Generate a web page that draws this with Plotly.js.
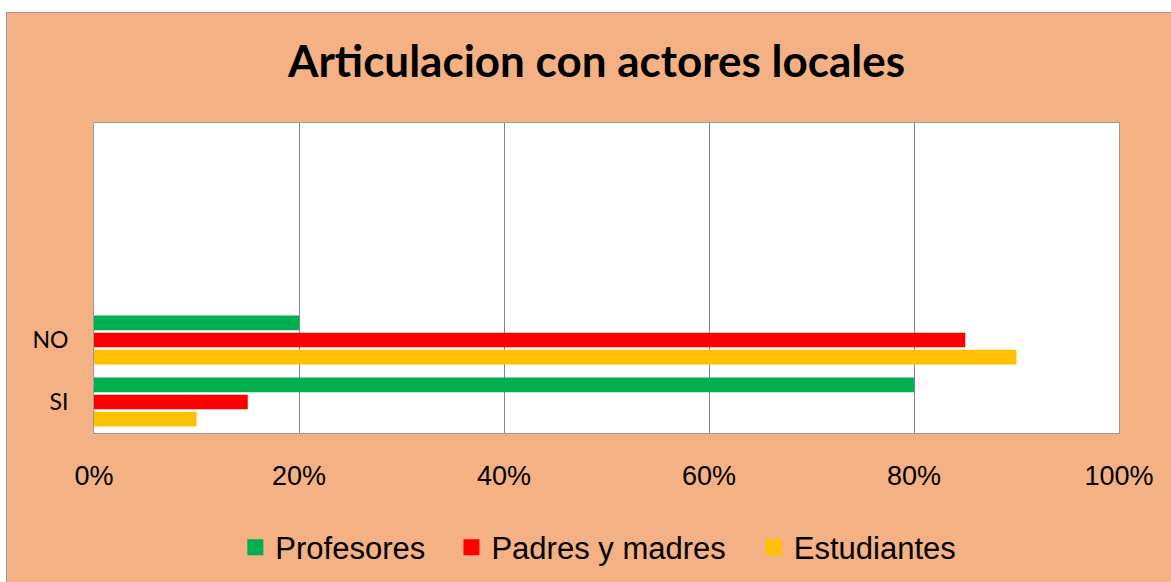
<!DOCTYPE html>
<html>
<head>
<meta charset="utf-8">
<script src="https://cdn.plot.ly/plotly-3.0.1.min.js"></script>
<style>
  html, body { margin: 0; padding: 0; background: #ffffff; width: 1171px; height: 582px; overflow: hidden; }
  #wrap { position: absolute; left: 6px; top: 12px; border-left: 1px solid #9a9a9a; border-top: 1px solid #9a9a9a; }
  #chart { width: 1165px; height: 570px; }
</style>
</head>
<body>
<div id="wrap"><div id="chart"></div></div>
<script>
const categories = ['SI', 'NO'];
const profesores = [0.80, 0.20];
const padresMadres = [0.15, 0.85];
const estudiantes = [0.10, 0.90];
const xTickVals = [0, 0.2, 0.4, 0.6, 0.8, 1.0];
const xTickText = ['0%', '20%', '40%', '60%', '80%', '100%'];
const seriesNames = ['Profesores', 'Padres y madres', 'Estudiantes'];
const seriesColors = ['#00B050', '#FF0000', '#FFC000'];

const bars = [
  { type: 'bar', orientation: 'h', name: seriesNames[2], y: categories, x: estudiantes, marker: { color: seriesColors[2] }, showlegend: false },
  { type: 'bar', orientation: 'h', name: seriesNames[1], y: categories, x: padresMadres, marker: { color: seriesColors[1] }, showlegend: false },
  { type: 'bar', orientation: 'h', name: seriesNames[0], y: categories, x: profesores, marker: { color: seriesColors[0] }, showlegend: false }
];
// legend keys (square swatches), one legend per series so they sit where the reference has them
const legendIds = ['legend', 'legend2', 'legend3'];
const keys = seriesNames.map((n, i) => ({
  type: 'scatter', mode: 'markers', name: n, x: [null], y: [null],
  marker: { symbol: 'square', size: 16, color: seriesColors[i] },
  legend: legendIds[i], showlegend: true, hoverinfo: 'skip'
}));

const legendFont = { family: '"Liberation Sans", Arial, sans-serif', size: 31, color: '#000000' };
function legendAt(x) {
  return {
    orientation: 'h', xref: 'container', yref: 'container',
    x: x, xanchor: 'left', y: 0.062, yanchor: 'middle',
    bgcolor: 'rgba(0,0,0,0)', font: legendFont, itemsizing: 'trace'
  };
}

const layout = {
  width: 1165,
  height: 570,
  paper_bgcolor: '#F4B183',
  plot_bgcolor: '#FFFFFF',
  margin: { l: 87, r: 53, t: 110, b: 150 },
  barmode: 'group',
  bargap: 0.17,
  bargroupgap: 0.15,
  showlegend: true,
  title: {
    text: '<b>Articulacion con actores locales</b>',
    font: { family: 'Lato, "Open Sans", sans-serif', size: 44, color: '#000000' },
    x: 0.506, xanchor: 'center',
    y: 0.915, yanchor: 'middle', yref: 'container'
  },
  xaxis: {
    range: [0, 1],
    tickvals: xTickVals,
    ticktext: xTickText,
    showgrid: true,
    gridcolor: '#868686',
    gridwidth: 1,
    zeroline: false,
    showline: true,
    mirror: true,
    linecolor: '#9a9a9a',
    linewidth: 1,
    ticks: '',
    ticklabelstandoff: 19,
    tickfont: { family: '"Liberation Sans", Arial, sans-serif', size: 27, color: '#000000' },
    fixedrange: true
  },
  yaxis: {
    type: 'category',
    categoryorder: 'array',
    categoryarray: categories,
    range: [-0.5, 4.5],
    showgrid: false,
    zeroline: false,
    showline: true,
    mirror: true,
    linecolor: '#9a9a9a',
    linewidth: 1,
    ticks: '',
    ticklabelstandoff: 20,
    tickfont: { family: 'Lato, "Open Sans", sans-serif', size: 23, color: '#000000' },
    fixedrange: true
  },
  legend: legendAt(0.196),
  legend2: legendAt(0.3815),
  legend3: legendAt(0.641)
};

Plotly.newPlot('chart', bars.concat(keys), layout, { displayModeBar: false, staticPlot: true });
</script>
</body>
</html>
